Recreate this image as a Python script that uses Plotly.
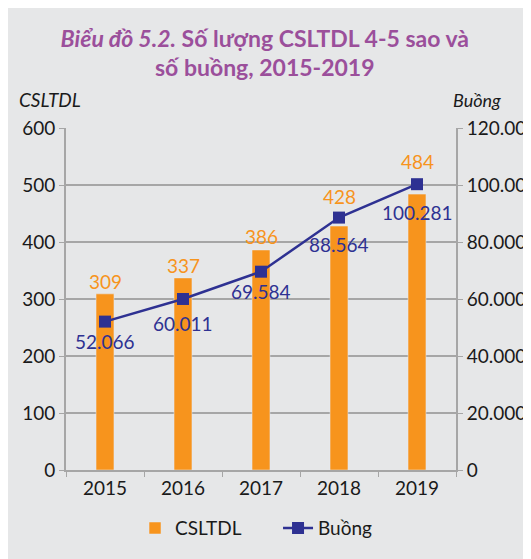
import plotly.graph_objects as go

years = ["2015", "2016", "2017", "2018", "2019"]
csltdl = [309, 337, 386, 428, 484]
buong = [52066, 60011, 69584, 88564, 100281]
buong_labels = ["52.066", "60.011", "69.584", "88.564", "100.281"]

# label offsets in px (style, not data): bar labels above bar tops, line labels below markers
bar_label_shift = [12, 12, 13, 30, 33]
line_label_shift = [-20, -25, -20, -27, -28]

BG = "#e6e7e8"
ORANGE = "#f7941d"
NAVY = "#2e3192"
GRID = "#a6a6a6"
FONT = "Lato"
FS = 19

fig = go.Figure()
fig.add_trace(go.Bar(
    x=years, y=csltdl, name="CSLTDL", marker_color=ORANGE, width=0.23,
    yaxis="y"))
fig.add_trace(go.Scatter(
    x=years, y=buong, name="Buồng", mode="lines+markers",
    line=dict(color=NAVY, width=2.5),
    marker=dict(symbol="square", size=12, color=NAVY),
    cliponaxis=False, yaxis="y2"))

annotations = [
    dict(text="<i>CSLTDL</i>", xref="paper", yref="paper", x=-0.126, y=1.082,
         xanchor="left", yanchor="middle", showarrow=False, font=dict(size=19)),
    dict(text="<i>Buồng</i>", xref="paper", yref="paper", x=1.12, y=1.082,
         xanchor="right", yanchor="middle", showarrow=False, font=dict(size=18)),
]
for i, v in enumerate(csltdl):
    annotations.append(dict(text=str(v), x=i, y=v, xref="x", yref="y",
                            yshift=bar_label_shift[i], showarrow=False,
                            xanchor="center", yanchor="middle",
                            font=dict(color=ORANGE, size=FS, family=FONT)))
for i, (v, lab) in enumerate(zip(buong, buong_labels)):
    annotations.append(dict(text=lab, x=i, y=v, xref="x", yref="y2",
                            yshift=line_label_shift[i], showarrow=False,
                            xanchor="center", yanchor="middle",
                            font=dict(color=NAVY, size=FS, family=FONT)))

fig.update_layout(
    width=523, height=551,
    paper_bgcolor=BG, plot_bgcolor=BG,
    font=dict(family=FONT, size=FS, color="#1a1a1a"),
    separators=",.",
    margin=dict(l=58, r=75, t=120, b=89, autoexpand=False),
    title=dict(text="<b><i>Biểu đồ 5.2.</i> Số lượng CSLTDL 4-5 sao và<br>số buồng, 2015-2019</b>",
               x=0.491, xanchor="center", y=0.93, yanchor="top",
               font=dict(family=FONT, size=23, color="#9b4f9b")),
    xaxis=dict(type="category", range=[-0.5, 4.5], showline=True, linecolor=GRID,
               linewidth=2, ticks="outside", tickcolor=GRID, ticklen=5,
               tickson="boundaries", tickangle=0, tickfont=dict(size=FS), showgrid=False),
    yaxis=dict(range=[0, 600], dtick=100, showline=True, linecolor=GRID, linewidth=2,
               ticks="outside", tickcolor=GRID, ticklen=5, gridcolor=GRID, gridwidth=1.5,
               zeroline=False, tickfont=dict(size=FS)),
    yaxis2=dict(range=[0, 120000], dtick=20000, overlaying="y", side="right",
                showline=True, linecolor=GRID, linewidth=2, ticks="outside",
                tickcolor=GRID, ticklen=5, showgrid=False, zeroline=False,
                tickformat=",d", tickfont=dict(size=FS)),
    legend=dict(orientation="h", x=0.177, xanchor="left", y=-0.17, yanchor="middle",
                entrywidth=98, font=dict(size=FS), bgcolor="rgba(0,0,0,0)"),
    bargap=0.77,
    annotations=annotations,
)

fig.write_html("out.html")
